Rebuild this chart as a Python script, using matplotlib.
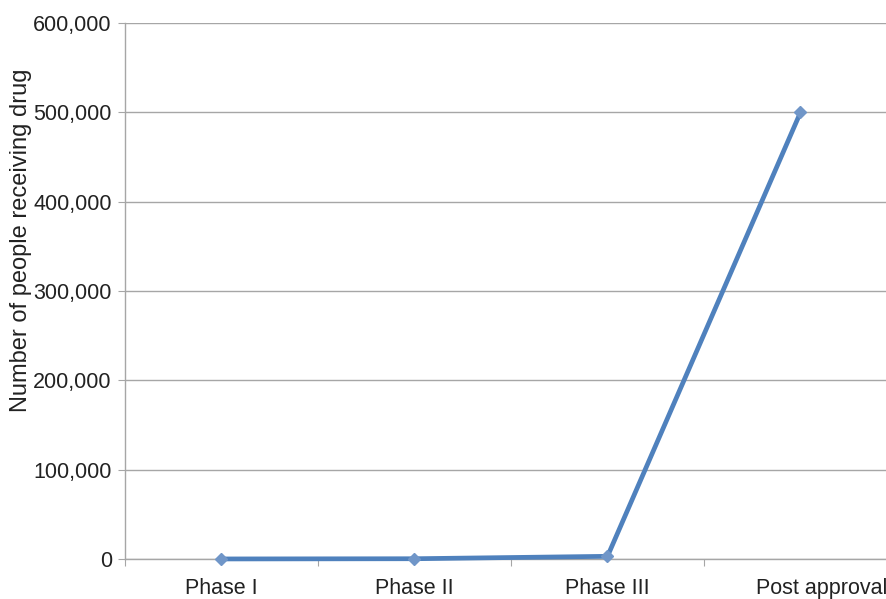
import matplotlib
matplotlib.use("Agg")
import matplotlib.pyplot as plt
from matplotlib.transforms import ScaledTranslation
import numpy as np

phases = ["Phase I", "Phase II", "Phase III", "Post approval"]
people = [60, 300, 3000, 500000]
y_ticks = [0, 100000, 200000, 300000, 400000, 500000, 600000]

plt.rcParams["font.family"] = ["Liberation Sans", "DejaVu Sans"]

fig = plt.figure(figsize=(8.87, 5.99), dpi=100)
ax = fig.add_axes([125 / 887, 1 - 559 / 599, 772 / 887, 536 / 599])

x = np.arange(len(phases))
ax.plot(x, people, color="#4F81BD", linewidth=3.4, solid_capstyle="round",
        marker="D", markersize=6.5, markerfacecolor="#7096C8",
        markeredgecolor="#7096C8", zorder=3, clip_on=False)

ax.set_xlim(-0.5, len(phases) - 0.5)
ax.set_ylim(0, 600000)
ax.set_yticks(y_ticks)
ax.set_yticklabels([f"{v:,}" for v in y_ticks], fontsize=15.5, color="#222222")
ax.yaxis.grid(True, color="#A6A6A6", linewidth=1.0)
ax.set_axisbelow(True)

# category labels centred, tick marks at the category boundaries
ax.set_xticks(np.arange(len(phases) + 1) - 0.5)
ax.set_xticklabels([])
ax.set_xticks(x, minor=True)
ax.set_xticklabels(phases, minor=True, fontsize=15.5, color="#222222")
ax.tick_params(axis="x", which="minor", length=0, pad=14)
ax.tick_params(axis="x", which="major", length=5, color="#A6A6A6", direction="out")
ax.tick_params(axis="y", length=5, color="#A6A6A6", direction="out", pad=4.5)

# the last category label is nudged right so it stays inside the figure edge
last = ax.xaxis.get_minor_ticks()[-1].label1
last.set_transform(last.get_transform() + ScaledTranslation(0.21, 0, fig.dpi_scale_trans))

for side in ("top", "right"):
    ax.spines[side].set_visible(False)
for side in ("left", "bottom"):
    ax.spines[side].set_color("#A6A6A6")
    ax.spines[side].set_linewidth(1.0)

ax.set_ylabel("Number of people receiving drug", fontsize=17, color="#222222")
ax.yaxis.set_label_coords(-0.1205, 0.594)

fig.savefig("out.png", dpi=100)
